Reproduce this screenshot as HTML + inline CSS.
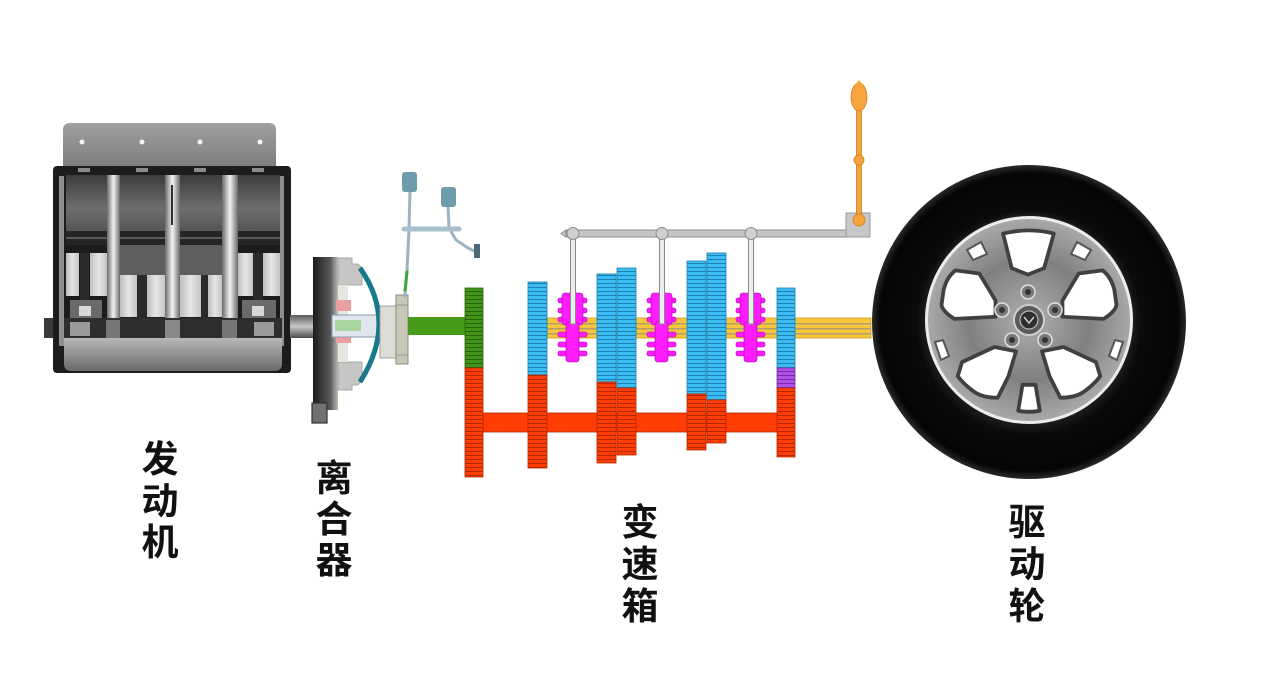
<!DOCTYPE html>
<html>
<head>
<meta charset="utf-8">
<style>
  html,body{margin:0;padding:0;background:#fff;}
  svg{display:block;}
  .lbl{font-family:"Liberation Sans","Noto Sans CJK SC","WenQuanYi Zen Hei",sans-serif;font-weight:700;font-size:37px;fill:#111;}
</style>
</head>
<body>
<svg width="1268" height="675" viewBox="0 0 1268 675" xmlns="http://www.w3.org/2000/svg">
<defs>
  <pattern id="pb" width="6" height="4" patternUnits="userSpaceOnUse"><rect width="6" height="4" fill="#3bbcf2"/><rect y="3" width="6" height="1" fill="#1d80b2"/></pattern>
  <pattern id="pr" width="6" height="4" patternUnits="userSpaceOnUse"><rect width="6" height="4" fill="#ff3d05"/><rect y="3" width="6" height="1" fill="#b32800"/></pattern>
  <pattern id="pg" width="6" height="4" patternUnits="userSpaceOnUse"><rect width="6" height="4" fill="#419417"/><rect y="3" width="6" height="1" fill="#28650b"/></pattern>
  <pattern id="pp" width="6" height="4" patternUnits="userSpaceOnUse"><rect width="6" height="4" fill="#b050e8"/><rect y="3" width="6" height="1" fill="#7a2aa8"/></pattern>
  <linearGradient id="plate" x1="0" y1="0" x2="0" y2="1"><stop offset="0" stop-color="#a0a0a0"/><stop offset="1" stop-color="#7a7a7a"/></linearGradient>
  <linearGradient id="cyl" x1="0" y1="0" x2="0" y2="1"><stop offset="0" stop-color="#3c3c3c"/><stop offset="0.6" stop-color="#6e6e6e"/><stop offset="1" stop-color="#555"/></linearGradient>
  <linearGradient id="sep" x1="0" y1="0" x2="1" y2="0"><stop offset="0" stop-color="#6a6a6a"/><stop offset="0.5" stop-color="#f2f2f2"/><stop offset="1" stop-color="#6a6a6a"/></linearGradient>
  <linearGradient id="pist" x1="0" y1="0" x2="1" y2="0"><stop offset="0" stop-color="#bdbdbd"/><stop offset="0.5" stop-color="#e6e6e6"/><stop offset="1" stop-color="#c4c4c4"/></linearGradient>
  <linearGradient id="crank" x1="0" y1="0" x2="0" y2="1"><stop offset="0" stop-color="#b8b8b8"/><stop offset="1" stop-color="#6a6a6a"/></linearGradient>
  <linearGradient id="shaftg" x1="0" y1="0" x2="0" y2="1"><stop offset="0" stop-color="#5a5a5a"/><stop offset="0.5" stop-color="#c8c8c8"/><stop offset="1" stop-color="#4a4a4a"/></linearGradient>
  <linearGradient id="fly" x1="0" y1="0" x2="1" y2="0"><stop offset="0" stop-color="#1a1a1a"/><stop offset="0.7" stop-color="#5a5a5a"/><stop offset="1" stop-color="#b8c0b0"/></linearGradient>
  <radialGradient id="tire" cx="0.5" cy="0.5" r="0.5"><stop offset="0.6" stop-color="#2a2a2a"/><stop offset="0.72" stop-color="#0a0a0a"/><stop offset="0.95" stop-color="#060606"/><stop offset="1" stop-color="#2a2a2a"/></radialGradient>
  <radialGradient id="rim" cx="0.5" cy="0.5" r="0.5"><stop offset="0" stop-color="#b0b0b0"/><stop offset="0.6" stop-color="#808080"/><stop offset="1" stop-color="#a8a8a8"/></radialGradient>
</defs>

<!-- ================= ENGINE ================= -->
<rect x="44" y="318" width="11" height="20" fill="#3a3a3a"/>
<path d="M63,172 V130 Q63,123 70,123 H269 Q276,123 276,130 V172 Z" fill="url(#plate)"/>
<circle cx="82" cy="142" r="2.5" fill="#f4f4f4"/>
<circle cx="142" cy="142" r="2.5" fill="#f4f4f4"/>
<circle cx="200" cy="142" r="2.5" fill="#f4f4f4"/>
<circle cx="260" cy="142" r="2.5" fill="#f4f4f4"/>
<rect x="53" y="166" width="238" height="207" rx="4" fill="#1c1c1c"/>
<rect x="78" y="168" width="12" height="4" fill="#8a8a8a"/>
<rect x="136" y="168" width="12" height="4" fill="#8a8a8a"/>
<rect x="194" y="168" width="12" height="4" fill="#8a8a8a"/>
<rect x="252" y="168" width="12" height="4" fill="#8a8a8a"/>
<rect x="59" y="176" width="5" height="170" fill="#8e8e8e"/>
<rect x="280" y="176" width="4" height="170" fill="#8e8e8e"/>
<g>
  <rect x="66" y="175" width="41" height="56" fill="url(#cyl)"/>
  <rect x="66" y="231" width="41" height="14" fill="#262626"/>
  <rect x="66" y="237" width="41" height="2" fill="#5a5a5a"/>
  <rect x="66" y="253" width="13" height="43" fill="url(#pist)"/>
  <rect x="90" y="253" width="17" height="43" fill="url(#pist)"/>
  <rect x="80" y="253" width="9" height="70" fill="#2a2a2a"/>
  <rect x="70" y="300" width="32" height="18" fill="#6a6a6a"/>
  <rect x="79" y="306" width="12" height="10" fill="#d8d8d8"/>

  <rect x="120" y="175" width="45" height="56" fill="url(#cyl)"/>
  <rect x="120" y="231" width="45" height="14" fill="#262626"/>
  <rect x="120" y="237" width="45" height="2" fill="#5a5a5a"/>
  <rect x="120" y="245" width="45" height="30" fill="#5e5e5e"/>
  <rect x="120" y="275" width="17" height="42" fill="url(#pist)"/>
  <rect x="147" y="275" width="18" height="42" fill="url(#pist)"/>
  <rect x="137" y="275" width="10" height="48" fill="#2a2a2a"/>

  <rect x="180" y="175" width="42" height="56" fill="url(#cyl)"/>
  <rect x="180" y="231" width="42" height="14" fill="#262626"/>
  <rect x="180" y="237" width="42" height="2" fill="#5a5a5a"/>
  <rect x="180" y="245" width="42" height="30" fill="#5e5e5e"/>
  <rect x="180" y="275" width="21" height="42" fill="url(#pist)"/>
  <rect x="208" y="275" width="14" height="42" fill="url(#pist)"/>
  <rect x="201" y="275" width="7" height="48" fill="#2a2a2a"/>

  <rect x="238" y="175" width="42" height="56" fill="url(#cyl)"/>
  <rect x="238" y="231" width="42" height="14" fill="#262626"/>
  <rect x="238" y="237" width="42" height="2" fill="#5a5a5a"/>
  <rect x="238" y="253" width="15" height="43" fill="url(#pist)"/>
  <rect x="263" y="253" width="17" height="43" fill="url(#pist)"/>
  <rect x="253" y="253" width="10" height="70" fill="#2a2a2a"/>
  <rect x="242" y="300" width="34" height="18" fill="#6a6a6a"/>
  <rect x="252" y="306" width="12" height="10" fill="#d8d8d8"/>
</g>
<rect x="107" y="175" width="13" height="145" fill="url(#sep)"/>
<rect x="165" y="175" width="15" height="145" fill="url(#sep)"/>
<rect x="171" y="185" width="2" height="40" fill="#333"/>
<rect x="222" y="175" width="16" height="145" fill="url(#sep)"/>
<rect x="64" y="318" width="218" height="22" fill="#2e2e2e"/>
<rect x="106" y="320" width="14" height="18" fill="#777"/>
<rect x="165" y="320" width="15" height="18" fill="#888"/>
<rect x="222" y="320" width="15" height="18" fill="#777"/>
<rect x="70" y="322" width="20" height="14" fill="#9a9a9a"/>
<rect x="254" y="322" width="20" height="14" fill="#9a9a9a"/>
<path d="M64,338 H282 V364 Q282,371 274,371 H72 Q64,371 64,364 Z" fill="url(#crank)"/>

<!-- ================= CLUTCH ================= -->
<rect x="290" y="315" width="24" height="23" fill="url(#shaftg)"/>
<rect x="313" y="257" width="25" height="153" fill="url(#fly)"/>
<rect x="312" y="403" width="15" height="20" fill="#707070" stroke="#333" stroke-width="1.2"/>
<path d="M338,258 H352 V264 H357 Q362,266 362,272 V285 H338 Z" fill="#c6c6c6" stroke="#a8a8a8" stroke-width="1"/>
<path d="M338,362 H362 V377 Q362,383 357,385 H352 V390 H338 Z" fill="#c6c6c6" stroke="#a8a8a8" stroke-width="1"/>
<rect x="338" y="285" width="10" height="77" fill="#e4e8e0"/>
<rect x="336" y="300" width="15" height="11" fill="#eaa0a0"/>
<rect x="336" y="331" width="15" height="12" fill="#eaa0a0"/>
<rect x="332" y="315" width="48" height="22" fill="#dfe6ee" stroke="#8a9ab0" stroke-width="1"/>
<rect x="335" y="320" width="26" height="11" fill="#a9d6a0"/>
<path d="M360,268 Q398,322 360,382" fill="none" stroke="#18788a" stroke-width="5"/>
<rect x="380" y="306" width="16" height="52" fill="#dcdcd4" stroke="#a0a0a0" stroke-width="1"/>
<rect x="396" y="295" width="12" height="69" fill="#c8c8b8" stroke="#8a8a80" stroke-width="1"/>
<line x1="396" y1="305" x2="408" y2="305" stroke="#999" stroke-width="1"/>
<line x1="396" y1="355" x2="408" y2="355" stroke="#999" stroke-width="1"/>
<rect x="408" y="317" width="58" height="18" fill="#479a1a"/>

<!-- pedals -->
<g stroke-linecap="round" fill="none">
  <path d="M410,190 L409,230 L407,270 L405,296" stroke="#9ab4c2" stroke-width="3"/>
  <path d="M448,205 L449,228 L456,240 L468,248 L476,252" stroke="#9ab4c2" stroke-width="3"/>
  <path d="M404,229 H459" stroke="#a8c0cc" stroke-width="5"/>
  <path d="M407,272 L405,290" stroke="#3aa83a" stroke-width="3"/>
</g>
<rect x="402" y="172" width="15" height="20" rx="3" fill="#6e9cac"/>
<rect x="441" y="187" width="15" height="20" rx="3" fill="#6e9cac"/>
<rect x="474" y="244" width="6" height="14" fill="#4a6a7a"/>

<!-- ================= GEARBOX ================= -->
<rect x="547" y="318" width="324" height="20" fill="#f7c63a" stroke="#c89a20" stroke-width="0.8"/>
<rect x="547" y="323" width="324" height="1.5" fill="#b0a070"/>
<rect x="547" y="328" width="324" height="1.5" fill="#b0a070"/>
<rect x="547" y="333" width="324" height="1.5" fill="#b0a070"/>
<rect x="483" y="413" width="296" height="19" fill="#ff3d05" stroke="#b32800" stroke-width="0.8"/>

<rect x="465" y="288" width="18" height="80" fill="url(#pg)" stroke="#28650b" stroke-width="0.8"/>
<rect x="465" y="368" width="18" height="109" fill="url(#pr)" stroke="#b32800" stroke-width="0.8"/>
<g stroke-width="0.8">
  <rect x="528" y="282" width="19" height="93" fill="url(#pb)" stroke="#1d80b2"/>
  <rect x="528" y="375" width="19" height="93" fill="url(#pr)" stroke="#b32800"/>

  <rect x="597" y="274" width="19" height="108" fill="url(#pb)" stroke="#1d80b2"/>
  <rect x="597" y="382" width="19" height="81" fill="url(#pr)" stroke="#b32800"/>
  <rect x="617" y="268" width="19" height="120" fill="url(#pb)" stroke="#1d80b2"/>
  <rect x="617" y="388" width="19" height="67" fill="url(#pr)" stroke="#b32800"/>

  <rect x="687" y="261" width="19" height="133" fill="url(#pb)" stroke="#1d80b2"/>
  <rect x="687" y="394" width="19" height="56" fill="url(#pr)" stroke="#b32800"/>
  <rect x="707" y="253" width="19" height="147" fill="url(#pb)" stroke="#1d80b2"/>
  <rect x="707" y="400" width="19" height="43" fill="url(#pr)" stroke="#b32800"/>

  <rect x="777" y="288" width="18" height="80" fill="url(#pb)" stroke="#1d80b2"/>
  <rect x="777" y="368" width="18" height="20" fill="url(#pp)" stroke="#7a2aa8"/>
  <rect x="777" y="388" width="18" height="69" fill="url(#pr)" stroke="#b32800"/>
</g>

<rect x="566" y="230" width="282" height="7" fill="#c6c6c6" stroke="#8e8e8e" stroke-width="1"/>
<path d="M566,230 L561,233.5 L566,237 Z" fill="#c6c6c6" stroke="#8e8e8e" stroke-width="1"/>
<g id="syn">
  <rect x="558" y="298" width="29" height="5" rx="2" fill="#ff1cff" stroke="#b000b0" stroke-width="0.6"/>
  <rect x="558" y="308" width="29" height="5" rx="2" fill="#ff1cff" stroke="#b000b0" stroke-width="0.6"/>
  <rect x="558" y="317" width="29" height="5" rx="2" fill="#ff1cff" stroke="#b000b0" stroke-width="0.6"/>
  <rect x="558" y="332" width="29" height="5" rx="2" fill="#ff1cff" stroke="#b000b0" stroke-width="0.6"/>
  <rect x="558" y="342" width="29" height="5" rx="2" fill="#ff1cff" stroke="#b000b0" stroke-width="0.6"/>
  <rect x="558" y="351" width="29" height="5" rx="2" fill="#ff1cff" stroke="#b000b0" stroke-width="0.6"/>
  <rect x="562" y="293" width="21" height="32" rx="3" fill="#ff1cff" stroke="#b000b0" stroke-width="0.6"/>
  <rect x="566" y="322" width="13" height="40" rx="3" fill="#ff1cff" stroke="#b000b0" stroke-width="0.6"/>
</g>
<use href="#syn" x="89"/>
<use href="#syn" x="178"/>
<rect x="570.5" y="236" width="5" height="88" fill="#ececec" stroke="#8a8a8a" stroke-width="1"/>
<rect x="659.5" y="236" width="5" height="88" fill="#ececec" stroke="#8a8a8a" stroke-width="1"/>
<rect x="748.5" y="236" width="5" height="88" fill="#ececec" stroke="#8a8a8a" stroke-width="1"/>
<circle cx="573" cy="233.5" r="6" fill="#cfcfcf" stroke="#8a8a8a" stroke-width="1"/>
<circle cx="662" cy="233.5" r="6" fill="#cfcfcf" stroke="#8a8a8a" stroke-width="1"/>
<circle cx="751" cy="233.5" r="6" fill="#cfcfcf" stroke="#8a8a8a" stroke-width="1"/>

<rect x="846" y="213" width="24" height="24" fill="#c8c8c8" stroke="#9a9a9a" stroke-width="1"/>
<rect x="856.5" y="108" width="5" height="112" fill="#f5a340" stroke="#d07a18" stroke-width="0.8"/>
<ellipse cx="859" cy="97" rx="8" ry="14" fill="#f7a440" stroke="#d98420" stroke-width="0.8"/>
<path d="M855,85 L859,80 L863,85 Z" fill="#f7a440"/>
<circle cx="859" cy="160" r="5" fill="#f7a440" stroke="#d07a18" stroke-width="0.8"/>
<circle cx="859" cy="220" r="6" fill="#f7a440" stroke="#d07a18" stroke-width="0.8"/>

<!-- ================= WHEEL ================= -->
<circle cx="1029" cy="322" r="157" fill="url(#tire)"/>
<g transform="translate(1029,320)">
  <circle r="106" fill="#1a1a1a"/>
  <circle r="104" fill="#ececec"/>
  <circle r="101" fill="url(#rim)"/>
  <g transform="scale(1.08)" fill="#ffffff" stroke="#404040" stroke-width="3.5" stroke-linejoin="round">
    <path d="M-24,-80 Q0,-86 23,-80 L14,-48 L-1,-42 L-16,-48 Z"/>
    <path d="M-79,-28 Q-76,-40 -68,-46 L-46,-43 L-31,-18 L-31,-3 L-69,-1 Q-80,-8 -81,-14 Z"/>
    <path d="M79,-28 Q76,-40 68,-46 L46,-43 L31,-18 L31,-3 L69,-1 Q80,-8 81,-14 Z"/>
    <path d="M-62,39 L-32,25 L-12,29 L-19,52 L-29,72 Q-42,72 -50,67 Q-60,60 -66,52 Z"/>
    <path d="M62,39 L32,25 L12,29 L19,52 L29,72 Q42,72 50,67 Q60,60 66,52 Z"/>
    <path d="M-6,60 L6,60 L10,84 Q0,86 -10,84 Z"/>
  </g>
  <g fill="#ffffff" stroke="#555" stroke-width="2">
    <path d="M-62,-70 L-48,-78 L-42,-66 L-56,-60 Z"/>
    <path d="M62,-70 L48,-78 L42,-66 L56,-60 Z"/>
    <path d="M-94,22 L-88,40 L-80,36 L-86,20 Z"/>
    <path d="M94,22 L88,40 L80,36 L86,20 Z"/>
  </g>
  <circle r="15" fill="#5a5a5a" stroke="#cfcfcf" stroke-width="2"/>
  <circle r="9" fill="#2e2e2e" stroke="#bdbdbd" stroke-width="1.2"/>
  <path d="M-5,-3 L0,3 L5,-3" fill="none" stroke="#d0d0d0" stroke-width="1.5"/>
  <g fill="#7a7a7a" stroke="#e0e0e0" stroke-width="1.5">
    <circle cx="-1" cy="-28" r="7"/>
    <circle cx="-27" cy="-10" r="7"/>
    <circle cx="26" cy="-10" r="7"/>
    <circle cx="-17" cy="20" r="7"/>
    <circle cx="16" cy="20" r="7"/>
  </g>
  <g fill="#333">
    <circle cx="-1" cy="-28" r="3"/>
    <circle cx="-27" cy="-10" r="3"/>
    <circle cx="26" cy="-10" r="3"/>
    <circle cx="-17" cy="20" r="3"/>
    <circle cx="16" cy="20" r="3"/>
  </g>
</g>

<!-- ================= LABELS ================= -->
<g class="lbl" text-anchor="middle">
  <text x="160" y="472">发</text>
  <text x="160" y="514">动</text>
  <text x="160" y="555">机</text>

  <text x="334" y="491">离</text>
  <text x="334" y="532">合</text>
  <text x="334" y="573">器</text>

  <text x="640" y="535">变</text>
  <text x="640" y="577">速</text>
  <text x="640" y="619">箱</text>

  <text x="1027" y="535">驱</text>
  <text x="1027" y="577">动</text>
  <text x="1027" y="619">轮</text>
</g>
</svg>
</body>
</html>
